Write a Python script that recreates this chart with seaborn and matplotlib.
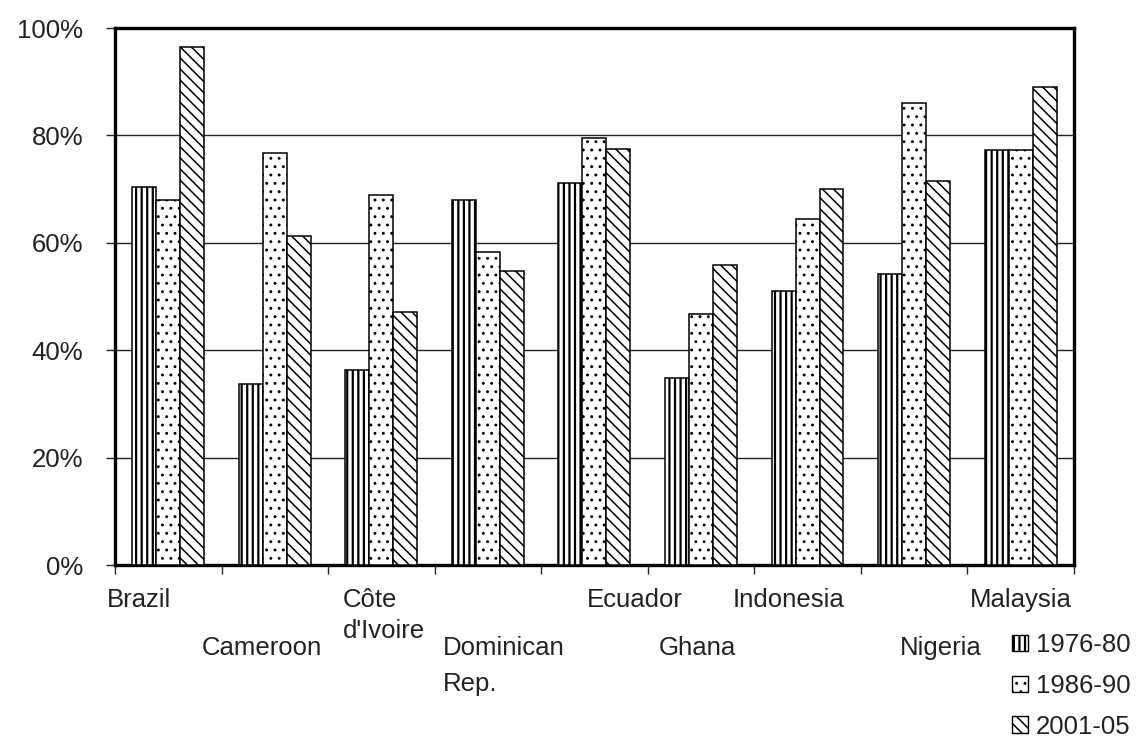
import matplotlib
matplotlib.use("Agg")
import matplotlib.pyplot as plt
import seaborn as sns
import pandas as pd
import numpy as np
from matplotlib.patches import Patch
from matplotlib.transforms import blended_transform_factory

# Share by country and period (percent)
countries = ["Brazil", "Cameroon", "Côte\nd'Ivoire", "Dominican\nRep.", "Ecuador",
             "Ghana", "Indonesia", "Nigeria", "Malaysia"]
periods = ["1976-80", "1986-90", "2001-05"]
share_1976_80 = [70.4, 33.7, 36.3, 67.9, 71.1, 34.9, 51.1, 54.2, 77.2]
share_1986_90 = [68.0, 76.7, 68.9, 58.3, 79.5, 46.7, 64.4, 86.1, 77.2]
share_2001_05 = [96.4, 61.3, 47.1, 54.7, 77.5, 55.8, 70.1, 71.6, 89.0]
y_ticks = [0, 20, 40, 60, 80, 100]

df = pd.DataFrame({
    "country": countries * 3,
    "period": [p for p in periods for _ in countries],
    "share": share_1976_80 + share_1986_90 + share_2001_05,
})

FS = 18.5
TEXT = "#222222"

sns.set_style("white")
plt.rcParams["font.family"] = ["Liberation Sans", "DejaVu Sans"]
plt.rcParams["hatch.linewidth"] = 1.3
plt.rcParams["hatch.color"] = "black"

fig = plt.figure(figsize=(11.37, 7.42), dpi=100)
ax = fig.add_axes([0.1011, 0.2385, 0.8434, 0.7237])

sns.barplot(data=df, x="country", y="share", hue="period", order=countries,
            hue_order=periods, palette=["white"] * 3, width=0.675,
            edgecolor="black", linewidth=1.1, legend=False, ax=ax, zorder=3)

hatches = ["|||", "..", "\\\\\\"]
hatch_widths = [1.6, 0.9, 1.1]


def style_patch(p, h, lw):
    p.set_hatch(h)
    p.set_edgecolor("black")
    if hasattr(p, "set_hatch_linewidth"):
        p.set_hatch_linewidth(lw)


for cont, h, lw in zip(ax.containers, hatches, hatch_widths):
    for bar in cont:
        style_patch(bar, h, lw)

ax.set_xlim(-0.5, len(countries) - 0.5)
ax.set_ylim(0, 100)
ax.set_yticks(y_ticks)
ax.set_yticklabels([f"{v}%" for v in y_ticks], fontsize=FS, color=TEXT)
ax.set_xticks(np.arange(-0.5, len(countries), 1.0))
ax.set_xticklabels([])
ax.tick_params(axis="y", direction="out", length=6.5, width=1, pad=16.5, left=True)
ax.tick_params(axis="x", direction="out", length=6.5, width=1, bottom=True)
ax.set_xlabel("")
ax.set_ylabel("")

ax.set_axisbelow(True)
for v in y_ticks[1:-1]:
    ax.axhline(v, color="#222222", linewidth=1.0, zorder=1)

for s in ax.spines.values():
    s.set_visible(True)
    s.set_color("black")
    s.set_linewidth(2.4)

# Staggered category labels
label_offsets = [-0.575, -0.69, -0.36, -0.42, -0.07, -0.40, -0.70, -0.13, -0.476]
label_linespacing = [1.3, 1.3, 1.37, 1.64, 1.3, 1.3, 1.3, 1.3, 1.3]
trans = blended_transform_factory(ax.transData, ax.transAxes)
for i, (name, dx, ls) in enumerate(zip(countries, label_offsets, label_linespacing)):
    y = -0.043 if i % 2 == 0 else -0.132
    ax.text(i + dx, y, name, transform=trans, ha="left", va="top",
            fontsize=FS, linespacing=ls, multialignment="left", color=TEXT)

handles = []
for h, lw in zip(hatches, hatch_widths):
    p = Patch(facecolor="white", edgecolor="black", hatch=h, linewidth=1.0)
    handles.append(p)
leg = fig.legend(handles, periods, loc="upper left", bbox_to_anchor=(0.890, 0.147),
                 frameon=False, fontsize=FS, handlelength=0.62, handleheight=0.62,
                 handletextpad=0.3, labelspacing=0.66, borderpad=0, borderaxespad=0,
                 labelcolor=TEXT)
for p, lw in zip(leg.get_patches(), hatch_widths):
    if hasattr(p, "set_hatch_linewidth"):
        p.set_hatch_linewidth(lw)

fig.savefig("out.png", dpi=100)
